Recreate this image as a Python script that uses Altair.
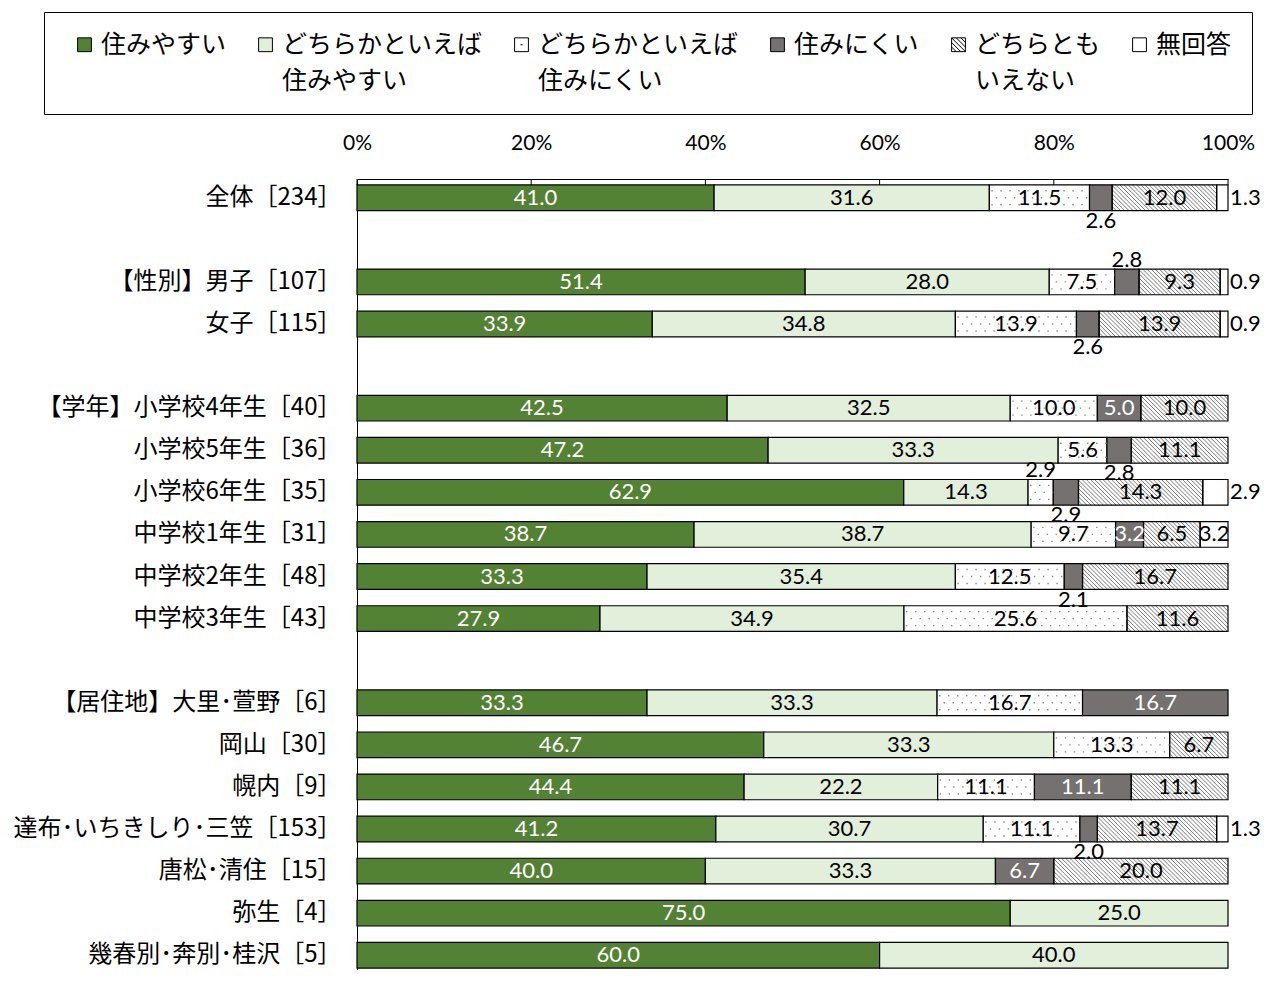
import altair as alt
import pandas as pd
import numpy as np

# ---------------- data ----------------
rows = [
    "全体［234］",
    "【性別】男子［107］",
    "女子［115］",
    "【学年】小学校4年生［40］",
    "小学校5年生［36］",
    "小学校6年生［35］",
    "中学校1年生［31］",
    "中学校2年生［48］",
    "中学校3年生［43］",
    "【居住地】大里･萱野［6］",
    "岡山［30］",
    "幌内［9］",
    "達布･いちきしり･三笠［153］",
    "唐松･清住［15］",
    "弥生［4］",
    "幾春別･奔別･桂沢［5］",
]
# display order with blank separator rows
order = [rows[0], " ", rows[1], rows[2], "  "] + rows[3:9] + ["   "] + rows[9:]

responses = [
    "住みやすい",
    "どちらかといえば\n住みやすい",
    "どちらかといえば\n住みにくい",
    "住みにくい",
    "どちらとも\nいえない",
    "無回答",
]

sumiyasui     = [41.0, 51.4, 33.9, 42.5, 47.2, 62.9, 38.7, 33.3, 27.9, 33.3, 46.7, 44.4, 41.2, 40.0, 75.0, 60.0]
dochira_yasui = [31.6, 28.0, 34.8, 32.5, 33.3, 14.3, 38.7, 35.4, 34.9, 33.3, 33.3, 22.2, 30.7, 33.3, 25.0, 40.0]
dochira_nikui = [11.5, 7.5, 13.9, 10.0, 5.6, 2.9, 9.7, 12.5, 25.6, 16.7, 13.3, 11.1, 11.1, 0, 0, 0]
sumi_nikui    = [2.6, 2.8, 2.6, 5.0, 2.8, 2.9, 3.2, 2.1, 0, 16.7, 0, 11.1, 2.0, 6.7, 0, 0]
dochiratomo   = [12.0, 9.3, 13.9, 10.0, 11.1, 14.3, 6.5, 16.7, 11.6, 0, 6.7, 11.1, 13.7, 20.0, 0, 0]
mukaitou      = [1.3, 0.9, 0.9, 0, 0, 2.9, 3.2, 0, 0, 0, 0, 0, 1.3, 0, 0, 0]
series = [sumiyasui, dochira_yasui, dochira_nikui, sumi_nikui, dochiratomo, mukaitou]

# small labels drawn above the bar instead of below
above = {(rows[1], responses[3]), (rows[5], responses[2])}

bar_colors = ["#548235", "#E2EFDA", "#FFFFFF", "#767171", "#FFFFFF", "#FFFFFF"]
legend_colors = ["#548235", "#E2EFDA", "#FFFFFF", "#767171", "#FFFFFF", "#FFFFFF"]
SQ = "M-1,-1H1V1H-1Z"
DOT = SQ + "M-0.15,0H0.15"
HATCH = SQ + "M-1,-0.33L0.33,1M-1,0.33L-0.33,1M-0.33,-1L1,0.33M0.33,-1L1,-0.33M-1,-1L1,1"
legend_shapes = [SQ, SQ, DOT, SQ, HATCH, SQ]

# ---------------- build tables ----------------
recs = []
for i, r in enumerate(rows):
    vals = [s[i] for s in series]
    tot = sum(vals)
    cum = 0.0
    for k, (resp, v) in enumerate(zip(responses, vals)):
        if v > 0:
            st = cum / tot * 100
            en = (cum + v) / tot * 100
            if k == 5 and v < 3:
                place = "right"
            elif v < 3:
                place = "above" if (r, resp) in above else "below"
            else:
                place = "in"
            recs.append(dict(cat=r, resp=resp, k=k, v=v, start=st, end=en,
                             mid=(st + en) / 2, label=f"{v:.1f}", place=place,
                             tcolor="white" if k in (0, 3) else "black"))
        cum += v
df = pd.DataFrame(recs)

# hatch stripes for どちらともいえない
DX = 2.95   # stripe horizontal run (percent) over one bar height
SP = 0.48   # stripe spacing (percent)
srecs = []
for rec in recs:
    if rec["k"] == 4:
        for s in np.arange(rec["start"] - DX, rec["end"], SP):
            srecs.append(dict(cat=rec["cat"], s=float(s), s2=float(s + DX)))
sdf = pd.DataFrame(srecs)

ticks = pd.DataFrame({"t": [0, 20, 40, 60, 80, 100]})

# ---------------- encodings ----------------
yscale = alt.Scale(domain=order, range=[0, 795], paddingInner=0.39, paddingOuter=0.14)
xscale = alt.Scale(domain=[0, 100], nice=False)
y_axis = alt.Axis(title=None, ticks=False, domain=True, domainColor="black", domainWidth=1,
                  labelFont="Noto Sans CJK JP", labelFontSize=24, labelColor="black",
                  labelPadding=16, labelLimit=500)
x_axis = alt.Axis(orient="top", values=[0, 20, 40, 60, 80, 100], labelExpr="datum.value + '%'",
                  ticks=False, grid=False, domainColor="black", domainWidth=1, title=None,
                  labelFont="Lato", labelFontSize=21, labelColor="black", labelPadding=26,
                  labelFlush=False)


def X(field):
    return alt.X(field, scale=xscale, axis=x_axis)


Y = alt.Y("cat:N", scale=yscale, axis=y_axis)
base = alt.Chart(df)

hatch_bg = base.transform_filter("datum.k == 4").mark_bar(fill="white", strokeWidth=0).encode(
    x=X("start:Q"), x2="end:Q", y=Y)

stripes = alt.Chart(sdf).mark_rule(clip=True, stroke="#7a7a7a", strokeWidth=1,
                                   yOffset=-12.8, y2Offset=12.8).encode(
    x=X("s:Q"), x2="s2:Q", y=Y, y2=alt.Y2("cat"))

# bar fill keyed on the numeric index so its (hidden) legend does not merge with the real one
bars = base.transform_filter("datum.k != 4").mark_bar(stroke="black", strokeWidth=1.2).encode(
    x=X("start:Q"), x2="end:Q", y=Y,
    fill=alt.Fill("k:O", scale=alt.Scale(domain=[0, 1, 2, 3, 4, 5], range=bar_colors), legend=None),
)

hatch_border = base.transform_filter("datum.k == 4").mark_bar(
    fillOpacity=0, stroke="black", strokeWidth=1.2).encode(
    x=X("start:Q"), x2="end:Q", y=Y)

dot_layers = []
for off, doff in [(-7, 2), (0, 6.5), (7, 2)]:
    dot_layers.append(
        base.transform_filter("datum.k == 2").mark_rule(
            stroke="#8c8c8c", strokeWidth=1.4, strokeDash=[1.4, 7.6], strokeDashOffset=-doff,
            yOffset=off).encode(
            x=X("start:Q"), x2="end:Q", y=Y))

tick_rules = alt.Chart(ticks).mark_rule(stroke="black", strokeWidth=1).encode(
    x=X("t:Q"), y=alt.value(0), y2=alt.value(6))

TXT = dict(font="Lato", fontSize=22, baseline="middle")
txt_in = base.transform_filter("datum.place == 'in'").mark_text(**TXT).encode(
    x=X("mid:Q"), y=Y, text="label:N",
    color=alt.Color("tcolor:N", scale=None))
txt_above = base.transform_filter("datum.place == 'above'").mark_text(dy=-22, color="black", **TXT).encode(
    x=X("mid:Q"), y=Y, text="label:N")
txt_below = base.transform_filter("datum.place == 'below'").mark_text(dy=23, color="black", **TXT).encode(
    x=X("mid:Q"), y=Y, text="label:N")
txt_right = base.transform_filter("datum.place == 'right'").mark_text(dx=2, align="left", color="black", **TXT).encode(
    x=X("end:Q"), y=Y, text="label:N")

leg = alt.Legend(title=" ", titleOrient="left", titlePadding=8, titleFontSize=10,
                 orient="none", legendX=-313, legendY=-167, direction="horizontal", columns=6,
                 columnPadding=26, labelFont="Noto Sans CJK JP", labelFontSize=25, labelColor="black",
                 labelExpr="indexof(datum.label, '\\n') >= 0 ? split(datum.label, '\\n') : [datum.label, ' ']",
                 labelLimit=800, labelOffset=4,
                 symbolSize=190, symbolStrokeColor="black", symbolStrokeWidth=1,
                 strokeColor="black", fillColor="white", padding=20)
legend_layer = alt.Chart(pd.DataFrame({"resp": responses})).mark_point(
    filled=True, opacity=1, stroke="black", strokeWidth=1).encode(
    x=alt.value(-2000), y=alt.value(-2000),
    color=alt.Color("resp:N", scale=alt.Scale(domain=responses, range=legend_colors), legend=leg),
    shape=alt.Shape("resp:N", scale=alt.Scale(domain=responses, range=legend_shapes), legend=leg),
)

chart = alt.layer(
    hatch_bg, stripes, bars, hatch_border, *dot_layers, tick_rules,
    txt_in, txt_above, txt_below, txt_right, legend_layer,
).properties(
    width=871, height=791,
    autosize=alt.AutoSizeParams(type="none"),
    padding={"left": 349, "top": 171, "right": 35, "bottom": 0},
).configure(
    view=alt.ViewConfig(strokeWidth=0),
    style={"guide-label": {"lineHeight": 36}},
)

chart.save("out.html", embed_options={"renderer": "svg", "actions": False})
